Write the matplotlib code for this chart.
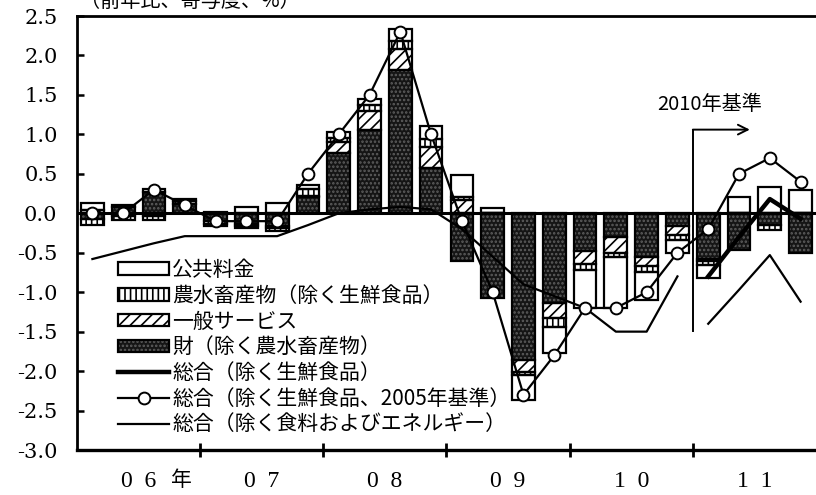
import matplotlib.pyplot as plt
from matplotlib.patches import Patch
from matplotlib.lines import Line2D
from matplotlib.legend_handler import HandlerTuple
import numpy as np

plt.rcParams['font.family'] = ['Noto Sans CJK JP', 'DejaVu Sans']
plt.rcParams['hatch.linewidth'] = 1.2

# 四半期 (2006Q1 - 2011Q4)
years = ['06', '07', '08', '09', '10', '11']
quarters = [f'{y}Q{q}' for y in years for q in range(1, 5)]

# 寄与度（%ポイント）
goods = [-0.07, 0.08, 0.27, 0.12, -0.10, -0.14, -0.16, 0.20,
         0.76, 1.05, 1.82, 0.57, -0.60, -1.07, -1.86, -1.14,
         -0.48, -0.30, -0.55, -0.16, -0.58, -0.47, -0.15, -0.50]
services = [0.04, -0.03, -0.04, 0.03, 0.02, -0.02, -0.03, 0.02,
            0.14, 0.25, 0.26, 0.27, 0.17, 0.00, -0.15, -0.19,
            -0.16, -0.20, -0.12, -0.12, -0.03, 0.00, 0.00, 0.00]
agri = [-0.08, -0.05, -0.05, 0.00, -0.03, -0.03, -0.03, 0.09,
        0.05, 0.07, 0.10, 0.10, 0.03, 0.00, -0.04, -0.11,
        -0.08, -0.06, -0.07, -0.06, -0.04, 0.00, -0.06, 0.00]
public = [0.09, 0.02, 0.04, 0.03, -0.03, 0.08, 0.13, 0.05,
          0.08, 0.08, 0.16, 0.16, 0.28, 0.07, -0.32, -0.33,
          -0.48, -0.64, -0.36, -0.16, -0.17, 0.21, 0.33, 0.30]

# 総合（除く生鮮食品、2005年基準）
core_2005 = [0.0, 0.0, 0.3, 0.1, -0.1, -0.1, -0.1, 0.5,
             1.0, 1.5, 2.3, 1.0, -0.1, -1.0, -2.3, -1.8,
             -1.2, -1.2, -1.0, -0.5, -0.2, 0.5, 0.7, 0.4]
# 総合（除く生鮮食品、2010年基準）: 2011年のみ
core_2010 = [-0.8, -0.3, 0.18, -0.07]
# 総合（除く食料およびエネルギー）
corecore_2005 = [-0.58, -0.48, -0.38, -0.29, -0.29, -0.29, -0.29, -0.15,
                 0.0, 0.05, 0.08, 0.05, -0.2, -0.55, -0.9, -1.05,
                 -1.2, -1.5, -1.5, -0.8]
corecore_2010 = [-1.4, -0.97, -0.53, -1.12]

yticks = np.arange(-3.0, 2.51, 0.5)
serif = ['DejaVu Serif']

fig = plt.figure(figsize=(8.16, 4.95), dpi=100)
ax = fig.add_axes([77 / 816, 1 - 450 / 495, 1 - 77 / 816, 434 / 495])

x = np.arange(len(quarters))
n_new = len(core_2010)
x_new = x[-n_new:]
w = 0.74

# 積み上げ棒（正は上へ、負は下へ）
styles = [
    (goods, dict(facecolor='#151515', edgecolor='#5e5e5e', hatch='....')),
    (services, dict(facecolor='white', edgecolor='black', hatch='///')),
    (agri, dict(facecolor='white', edgecolor='black', hatch='|||')),
    (public, dict(facecolor='white', edgecolor='black', hatch=None)),
]
pos = np.zeros(len(x))
neg = np.zeros(len(x))
for vals, st in styles:
    v = np.array(vals)
    bottom = np.where(v >= 0, pos, neg)
    ax.bar(x, v, bottom=bottom, width=w, linewidth=0, zorder=2, **st)
    ax.bar(x, v, bottom=bottom, width=w, fill=False, edgecolor='black',
           linewidth=1.6, zorder=2.5)
    pos += np.clip(v, 0, None)
    neg += np.clip(v, None, 0)

ax.axhline(0, color='black', lw=2.2, zorder=3)

# 折れ線
ax.plot(x[:len(corecore_2005)], corecore_2005, color='black', lw=1.6, zorder=4)
ax.plot(x_new, corecore_2010, color='black', lw=1.6, zorder=4)
ax.plot(x_new, core_2010, color='black', lw=3.2, zorder=4.5)
ax.plot(x, core_2005, color='black', lw=1.6, marker='o', markersize=8.5,
        markerfacecolor='white', markeredgecolor='black', markeredgewidth=1.4,
        zorder=5)

# 2010年基準の区切り
xb = x_new[0] - 0.5
ax.plot([xb, xb], [1.06, -1.49], color='black', lw=1.4, zorder=5)
ax.annotate('', xy=(xb + 1.85, 1.06), xytext=(xb, 1.06),
            arrowprops=dict(arrowstyle='->,head_length=0.7,head_width=0.35',
                            lw=1.4, color='black', shrinkA=0, shrinkB=0))
ax.text(xb + 0.55, 1.38, '2010年基準', ha='center', va='center', fontsize=14.5)

# 軸
ax.set_xlim(-0.5, len(x) - 0.5)
ax.set_ylim(-3.0, 2.5)
ax.set_yticks(yticks)
ax.set_yticklabels([f'{t:.1f}' for t in yticks], family=serif, fontsize=15)
ax.tick_params(axis='y', direction='in', length=5, width=1.8, pad=14)

ax.set_xticks(np.arange(3.5, len(x) - 1, 4))
ax.set_xticklabels([])
ax.tick_params(axis='x', which='major', direction='inout', length=10, width=2)
ax.set_xticks(np.arange(1.5, len(x), 4), minor=True)
ax.set_xticklabels([f'{y[0]}  {y[1]}' for y in years], minor=True,
                   family=['Liberation Serif'], fontsize=17)
ax.tick_params(axis='x', which='minor', length=0, pad=15)
ax.text(2.9, -0.07, '年', transform=ax.get_xaxis_transform(),
        ha='center', va='center', fontsize=15)

for s in ['top', 'left']:
    ax.spines[s].set_linewidth(2)
ax.spines['bottom'].set_linewidth(2.4)
ax.spines['right'].set_visible(False)

fig.text(80 / 816, 0.998, '（前年比、寄与度、%）', ha='left', va='center', fontsize=14.5)

# 凡例
def bar_handle(st):
    return (Patch(linewidth=0, **st), Patch(fill=False, edgecolor='black', linewidth=1.6))

handles = [bar_handle(styles[3][1]), bar_handle(styles[2][1]),
           bar_handle(styles[1][1]), bar_handle(styles[0][1]),
           Line2D([], [], color='black', lw=3.2),
           Line2D([], [], color='black', lw=1.6, marker='o', markersize=8.5,
                  markerfacecolor='white', markeredgewidth=1.4),
           Line2D([], [], color='black', lw=1.6)]
labels = ['公共料金', '農水畜産物（除く生鮮食品）', '一般サービス', '財（除く農水畜産物）',
          '総合（除く生鮮食品）', '総合（除く生鮮食品、2005年基準）',
          '総合（除く食料およびエネルギー）']
leg = fig.legend(handles, labels, loc='upper left', bbox_to_anchor=(118 / 816, 1 - 259 / 495),
                 frameon=False, fontsize=15, borderpad=0, borderaxespad=0,
                 handlelength=2.45, handleheight=0.55, handletextpad=0.15,
                 labelspacing=0.18, handler_map={tuple: HandlerTuple(ndivide=1, pad=0)})
leg.set_zorder(6)

fig.savefig('out.png', dpi=100, facecolor='white')
